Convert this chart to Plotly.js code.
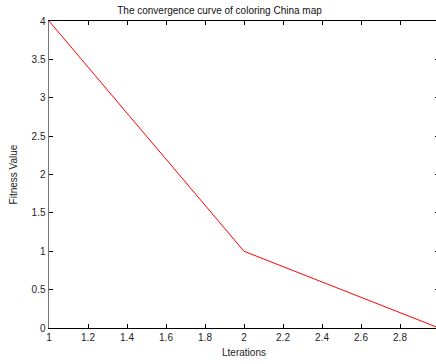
<!DOCTYPE html>
<html><head><meta charset="utf-8">
<script src="https://cdn.plot.ly/plotly-3.0.1.min.js"></script>
<style>html,body{margin:0;padding:0;overflow:hidden;background:#fff;width:436px;height:364px}#c{width:439px;height:364px}</style>
</head><body><div id="c"></div>
<script>
var iterations = [1, 2, 3];
var fitness = [4, 1, 0];
var xTicks = [1, 1.2, 1.4, 1.6, 1.8, 2, 2.2, 2.4, 2.6, 2.8];
var yTicks = [0, 0.5, 1, 1.5, 2, 2.5, 3, 3.5, 4];
var F = 'Liberation Sans, Arial, Helvetica, sans-serif';
Plotly.newPlot('c', [{
  x: iterations, y: fitness, type: 'scatter', mode: 'lines',
  line: {color: '#ff0000', width: 1}, hoverinfo: 'none'
}], {
  width: 439, height: 364,
  margin: {l: 49, r: 0, t: 21, b: 36, pad: 0},
  paper_bgcolor: '#fff', plot_bgcolor: '#fff',
  showlegend: false,
  font: {family: F, size: 10, color: '#222'},
  title: {text: 'The convergence curve of coloring China map', font: {family: F, size: 10, color: '#111'}, x: 0.5, xanchor: 'center', y: 0.971, yanchor: 'middle'},
  xaxis: {
    range: [1, 3], tickvals: xTicks, ticktext: xTicks.map(String),
    ticks: 'inside', ticklen: 4, tickcolor: '#000', tickwidth: 1,
    showline: true, linecolor: '#000', linewidth: 1, mirror: 'ticks',
    showgrid: false, zeroline: false,
    tickfont: {family: F, size: 10, color: '#222'},
    title: {text: 'Lterations', font: {family: F, size: 10, color: '#222'}, standoff: 6}
  },
  yaxis: {
    range: [0, 4], tickvals: yTicks, ticktext: yTicks.map(String),
    ticks: 'inside', ticklen: 4, tickcolor: '#000', tickwidth: 1,
    showline: true, linecolor: '#777', linewidth: 1.5, mirror: 'ticks',
    showgrid: false, zeroline: false,
    tickfont: {family: F, size: 10, color: '#222'},
    title: {text: 'Fitness Value', font: {family: F, size: 10, color: '#222'}, standoff: 12}
  }
}, {staticPlot: true, displayModeBar: false});
</script></body></html>
